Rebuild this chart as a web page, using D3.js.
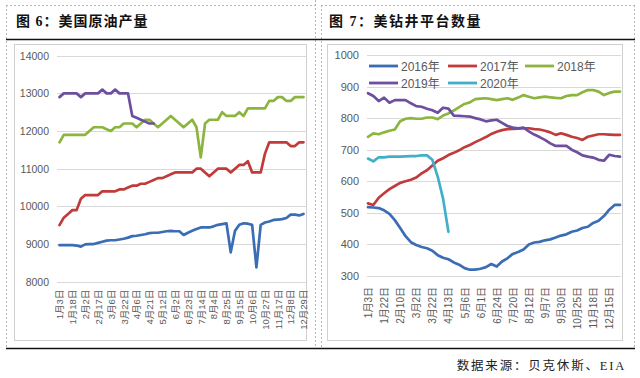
<!DOCTYPE html>
<html><head><meta charset="utf-8">
<script src="https://cdn.jsdelivr.net/npm/d3@7"></script>
<style>body{margin:0;background:#fff} svg{display:block}</style>
</head><body><svg id="c" width="640" height="378"></svg>
<script>
// ---------- Data: left chart (US crude oil production) ----------
const prodLabels = ["1月3日","1月18日","2月2日","2月17日","3月6日","3月22日","4月6日","4月21日","5月12日","6月2日","6月23日","7月14日","8月4日","8月25日","9月15日","10月6日","10月27日","11月17日","12月8日","12月29日"];
const prodTicks = [8000,9000,10000,11000,12000,13000,14000];
const prod2017 = [8970,8970,8970,8970,8960,8930,8990,9000,9000,9030,
  9060,9090,9100,9100,9120,9140,9170,9210,9220,9240,
  9260,9290,9300,9300,9320,9340,9350,9340,9340,9240,
  9300,9350,9400,9440,9440,9440,9470,9510,9530,9550,
  8780,9350,9510,9550,9540,9510,8380,9510,9570,9600,
  9640,9650,9660,9690,9780,9780,9760,9800];
const prod2018 = [9500,9700,9800,9900,9900,10200,10300,10300,10300,10300,
  10400,10400,10400,10400,10450,10450,10500,10550,10550,10600,
  10600,10650,10700,10750,10750,10800,10850,10900,10900,10900,
  10900,10900,11000,11000,10900,10800,10900,11000,11000,11000,
  10900,11000,11100,11100,11200,10900,10900,10900,11400,11700,
  11700,11700,11700,11700,11600,11600,11700,11700];
const prod2019 = [11700,11900,11900,11900,11900,11900,11900,12000,12100,12100,
  12100,12050,12000,12100,12100,12200,12200,12200,12100,12200,
  12300,12300,12200,12100,12200,12300,12400,12300,12200,12100,
  12200,12300,12100,11300,12200,12300,12300,12300,12500,12400,
  12400,12400,12500,12400,12600,12600,12600,12600,12600,12800,
  12800,12900,12900,12800,12800,12900,12900,12900];
const prod2020 = [12900,13000,13000,13000,13000,12900,13000,13000,13000,13000,
  13100,13000,13000,13100,13000,13000,13000,12400,12350,12300,
  12250,12200,12200];

// ---------- Data: right chart (US rig count) ----------
const rigLabels = ["1月3日","1月22日","2月10日","3月2日","3月22日","4月13日","5月6日","6月1日","6月24日","7月20日","8月12日","9月7日","9月30日","10月25日","11月18日","12月15日"];
const rigTicks = [300,400,500,600,700,800,900,1000];
const rigYears = ["2016年","2017年","2018年","2019年","2020年"];
const rig2016 = [518,517,515,508,497,477,452,426,407,398,
  392,388,380,366,358,353,343,336,325,320,
  320,323,328,338,330,346,356,370,376,384,
  400,406,408,413,416,422,428,432,440,444,
  452,456,468,475,490,510,525,525];
const rig2017 = [530,525,548,562,575,585,595,600,605,612,
  625,635,650,665,673,683,690,698,708,715,
  724,732,740,750,757,762,765,766,767,768,
  768,765,764,760,755,747,752,747,741,737,
  731,741,745,749,749,748,747,747];
const rig2018 = [741,752,749,755,760,764,790,798,800,798,
  798,802,802,797,808,815,824,835,845,850,
  860,862,863,860,857,860,863,858,865,873,
  868,863,866,868,866,864,863,870,873,873,
  882,889,889,884,873,880,884,884];
const rig2019 = [879,870,854,865,849,857,857,857,847,838,
  836,830,825,817,833,830,808,807,806,805,
  800,796,790,793,795,785,775,770,768,770,
  758,748,740,731,720,712,712,712,700,692,
  682,678,675,668,665,684,680,678];
const rig2020 = [672,663,676,676,678,678,678,679,680,680,
  682,682,668,615,545,440];

// ---------- Styles ----------
const C = {blue:"#3b6db4", red:"#c03b3a", green:"#8cb53f", purple:"#6e4f9f", cyan:"#41afc8"};
const axisFont = "'Liberation Sans','Noto Sans CJK SC',sans-serif";
const textCol = "#595959";
const gridCol = "#d9d9d9";

const svg = d3.select("#c");

// ---------- Page frame ----------
const dash = "2,2", dashCol = "#b5b5b5";
[[6.5,5,6.5,348],[315.5,0,315.5,348],[321.5,5,321.5,348],[634.5,5,634.5,348]].forEach(l=>
  svg.append("line").attr("x1",l[0]).attr("y1",l[1]).attr("x2",l[2]).attr("y2",l[3])
    .attr("stroke",dashCol).attr("stroke-dasharray",dash));
[[6,316],[321,635]].forEach(l=>
  svg.append("line").attr("x1",l[0]).attr("x2",l[1]).attr("y1",5.5).attr("y2",5.5)
    .attr("stroke",dashCol).attr("stroke-dasharray",dash));
svg.append("line").attr("x1",6).attr("x2",635).attr("y1",39.5).attr("y2",39.5).attr("stroke","#111").attr("stroke-width",1.3);
svg.append("line").attr("x1",6).attr("x2",635).attr("y1",348.5).attr("y2",348.5).attr("stroke","#111").attr("stroke-width",1.3);

const titleFont = "'Liberation Serif','Noto Sans CJK SC',serif";
svg.append("text").attr("x",16).attr("y",26).text("图 6：美国原油产量")
  .attr("font-family",titleFont).attr("font-weight","bold").attr("font-size",14)
  .attr("letter-spacing",1).attr("fill","#111");
svg.append("text").attr("x",329).attr("y",26).text("图 7：美钻井平台数量")
  .attr("font-family",titleFont).attr("font-weight","bold").attr("font-size",14)
  .attr("letter-spacing",1.5).attr("fill","#111");
svg.append("text").attr("x",626).attr("y",370).attr("text-anchor","end").text("数据来源：贝克休斯、EIA")
  .attr("font-family",titleFont).attr("font-size",12.5).attr("letter-spacing",1.8).attr("fill","#222");

// inner chart boxes
svg.append("rect").attr("x",14.5).attr("y",44.5).attr("width",292).attr("height",296)
  .attr("fill","none").attr("stroke","#d0d0d0");
svg.append("rect").attr("x",327.5).attr("y",44.5).attr("width",295).attr("height",296)
  .attr("fill","none").attr("stroke","#d0d0d0");

// ---------- generic chart drawer ----------
function drawChart(cfg){
  const g = svg.append("g");
  const x = d3.scalePoint().domain(d3.range(cfg.n)).range(cfg.xr);
  const y = d3.scaleLinear().domain(cfg.yd).range(cfg.yr);
  // gridlines
  g.append("g").selectAll("line").data(cfg.ticks).join("line")
    .attr("x1",cfg.gx[0]).attr("x2",cfg.gx[1])
    .attr("y1",d=>Math.round(y(d))+0.5).attr("y2",d=>Math.round(y(d))+0.5)
    .attr("stroke",gridCol);
  // y axis labels
  const ya = g.append("g").attr("transform",`translate(${cfg.ylx},0)`)
    .call(d3.axisLeft(y).tickValues(cfg.ticks).tickSize(0).tickPadding(0).tickFormat(d3.format("d")));
  ya.select(".domain").remove();
  ya.selectAll("text").attr("font-family",axisFont).attr("font-size",cfg.yfs).attr("fill",textCol);
  // x axis labels
  const tickIdx = d3.range(0,cfg.n,3).slice(0,cfg.labels.length);
  const xa = g.append("g").attr("transform",`translate(0,${cfg.yr[0]})`)
    .call(d3.axisBottom(x).tickValues(tickIdx).tickSize(0).tickFormat((d,i)=>cfg.labels[i]));
  xa.select(".domain").remove();
  xa.selectAll("text").attr("transform","rotate(-90)").attr("text-anchor","end")
    .attr("x",-cfg.xoff).attr("y",0).attr("dy","0.35em")
    .attr("font-family",axisFont).attr("font-size",cfg.xfs).attr("fill",textCol);
  // lines
  const line = d3.line().x((d,i)=>x(i)).y(d=>y(d));
  cfg.series.forEach(s=>{
    g.append("path").datum(s.values).attr("d",line).attr("fill","none")
      .attr("stroke",s.color).attr("stroke-width",2.7)
      .attr("stroke-linejoin","round").attr("stroke-linecap","round");
  });
  return {x,y,g};
}

drawChart({
  n:58, xr:[59.5,303.5], gx:[57,306], yd:[8000,14000], yr:[281.7,55.7],
  ticks:prodTicks, ylx:49, yfs:10.5, labels:prodLabels, xoff:8, xfs:9.5,
  series:[
    {values:prod2017,color:C.blue},
    {values:prod2018,color:C.red},
    {values:prod2019,color:C.green},
    {values:prod2020,color:C.purple}
  ]
});

drawChart({
  n:48, xr:[368,620], gx:[367,621], yd:[300,1000], yr:[276,55],
  ticks:rigTicks, ylx:359, yfs:11, labels:rigLabels, xoff:11, xfs:10,
  series:[
    {values:rig2016,color:C.blue},
    {values:rig2017,color:C.red},
    {values:rig2018,color:C.green},
    {values:rig2019,color:C.purple},
    {values:rig2020,color:C.cyan}
  ]
});

// legend for right chart
const legendColors = [C.blue,C.red,C.green,C.purple,C.cyan];
const legPos = [[369,66],[448,66],[525,66],[369,83],[448,83]];
const leg = svg.append("g");
rigYears.forEach((name,i)=>{
  const [lx,ly] = legPos[i];
  leg.append("line").attr("x1",lx).attr("x2",lx+29).attr("y1",ly).attr("y2",ly)
    .attr("stroke",legendColors[i]).attr("stroke-width",2.8);
  leg.append("text").attr("x",lx+32).attr("y",ly+4.5).text(name)
    .attr("font-family",axisFont).attr("font-size",12).attr("fill",textCol);
});
</script></body></html>
